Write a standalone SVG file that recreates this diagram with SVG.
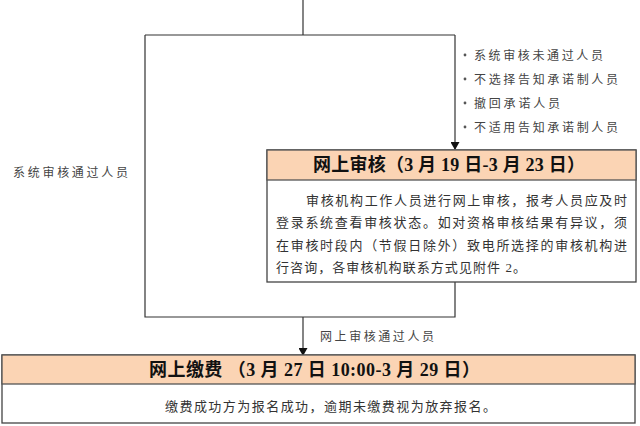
<svg xmlns="http://www.w3.org/2000/svg" width="640" height="426" viewBox="0 0 640 426">
<style>
.line{stroke:#333;stroke-width:1.2;fill:none}
.box{fill:#fff;stroke:#444;stroke-width:1.3}
.hdr{fill:#FBD4B4;stroke:#555;stroke-width:1.3}
.ht{font-family:"Liberation Serif","Noto Sans CJK SC",serif;font-weight:bold;font-size:18px;fill:#111}
.bt{font-family:"Liberation Serif","Noto Sans CJK SC",serif;font-size:13px;fill:#333}
.lb{font-family:"Liberation Sans","Noto Sans CJK SC",sans-serif;font-size:12px;fill:#444}
</style>
<defs>
<marker id="arr" markerWidth="8" markerHeight="9" refX="7" refY="4.5" orient="auto" markerUnits="userSpaceOnUse">
<path d="M0,0 L8,4.5 L0,9 Z" fill="#111"/>
</marker>
</defs>
<g id="connectors">
<path class="line" d="M303,0 V35"/>
<path class="line" d="M145,35 H455"/>
<path class="line" d="M145,35 V317 H455 V282"/>
<path class="line" d="M455,35 V149" marker-end="url(#arr)"/>
<path class="line" d="M303,317 V355" marker-end="url(#arr)"/>
<text class="lb" x="13" y="177" textLength="115" lengthAdjust="spacing">系统审核通过人员</text>
<text class="lb" x="320" y="341" textLength="114" lengthAdjust="spacing">网上审核通过人员</text>
<g id="bullets">
<circle cx="465" cy="55" r="1.4" fill="#555"/>
<text class="lb" x="474" y="60" textLength="129" lengthAdjust="spacing">系统审核未通过人员</text>
<circle cx="465" cy="79" r="1.4" fill="#555"/>
<text class="lb" x="474" y="84" textLength="144" lengthAdjust="spacing">不选择告知承诺制人员</text>
<circle cx="465" cy="103" r="1.4" fill="#555"/>
<text class="lb" x="474" y="108" textLength="86" lengthAdjust="spacing">撤回承诺人员</text>
<circle cx="465" cy="127" r="1.4" fill="#555"/>
<text class="lb" x="474" y="132" textLength="144" lengthAdjust="spacing">不适用告知承诺制人员</text>
</g>
</g>
<g id="review">
<rect class="box" x="267" y="150" width="369" height="132"/>
<rect class="hdr" x="267" y="150" width="369" height="30"/>
<text class="ht" x="449" y="171" text-anchor="middle" textLength="272" lengthAdjust="spacing">网上审核（3 月 19 日-3 月 23 日）</text>
<text class="bt" x="306" y="205" textLength="321" lengthAdjust="spacing">审核机构工作人员进行网上审核，报考人员应及时</text>
<text class="bt" x="276" y="227" textLength="351" lengthAdjust="spacing">登录系统查看审核状态。如对资格审核结果有异议，须</text>
<text class="bt" x="276" y="250" textLength="351" lengthAdjust="spacing">在审核时段内（节假日除外）致电所选择的审核机构进</text>
<text class="bt" x="276" y="272" textLength="250" lengthAdjust="spacing">行咨询，各审核机构联系方式见附件 2。</text>
</g>
<g id="payment">
<rect class="box" x="2" y="355" width="633" height="68"/>
<rect class="hdr" x="2" y="355" width="633" height="29"/>
<text class="ht" x="149" y="376" textLength="331" lengthAdjust="spacing">网上缴费 （3 月 27 日 10:00-3 月 29 日）</text>
<text class="bt" x="165" y="411" textLength="331" lengthAdjust="spacing">缴费成功方为报名成功，逾期未缴费视为放弃报名。</text>
</g>
</svg>
